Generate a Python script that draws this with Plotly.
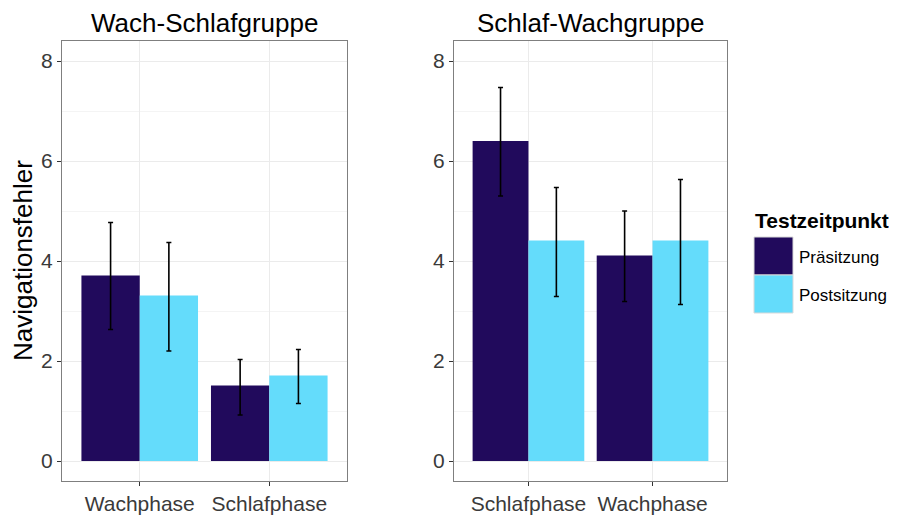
import plotly.graph_objects as go

# ---- data ----
panels = ["Wach-Schlafgruppe", "Schlaf-Wachgruppe"]
cats_left = ["Wachphase", "Schlafphase"]
cats_right = ["Schlafphase", "Wachphase"]
series = ["Präsitzung", "Postsitzung"]
pre_left = [3.71, 1.51]
pre_left_lo = [2.63, 0.92]
pre_left_hi = [4.77, 2.03]
post_left = [3.31, 1.71]
post_left_lo = [2.20, 1.15]
post_left_hi = [4.37, 2.23]
pre_right = [6.40, 4.11]
pre_right_lo = [5.30, 3.19]
pre_right_hi = [7.47, 5.00]
post_right = [4.41, 4.41]
post_right_lo = [3.29, 3.13]
post_right_hi = [5.47, 5.63]
y_ticks = [0, 2, 4, 6, 8]

colors = ["#210a5c", "#64dcfb"]
OFF = 8  # page body margin offset
W, H = 897 - OFF, 518 - OFF
FONT = "Liberation Sans, Arial, sans-serif"

def px(x):
    return (x - OFF) / W

def py(y):
    return 1 - (y - OFF) / H

fig = go.Figure()

def add_bars(cats, vals, lo, hi, color, name, xa, ya):
    fig.add_trace(go.Bar(
        x=cats, y=vals, name=name, marker=dict(color=color, line=dict(width=0)),
        error_y=dict(type="data", symmetric=False,
                     array=[h - v for h, v in zip(hi, vals)],
                     arrayminus=[v - l for l, v in zip(lo, vals)],
                     color="black", thickness=1.6, width=2.5),
        xaxis=xa, yaxis=ya, showlegend=False, offsetgroup=name))

add_bars(cats_left, pre_left, pre_left_lo, pre_left_hi, colors[0], series[0], "x", "y")
add_bars(cats_left, post_left, post_left_lo, post_left_hi, colors[1], series[1], "x", "y")
add_bars(cats_right, pre_right, pre_right_lo, pre_right_hi, colors[0], series[0], "x2", "y2")
add_bars(cats_right, post_right, post_right_lo, post_right_hi, colors[1], series[1], "x2", "y2")

ydom = [py(481), py(41)]
axis_common = dict(showline=True, linecolor="#7f7f7f", linewidth=1, mirror=True,
                   showgrid=True, gridcolor="#ebebeb", gridwidth=1, zeroline=False,
                   ticks="outside", ticklen=4, tickcolor="#333333",
                   tickfont=dict(family=FONT, size=21, color="#3a3a3a"))
xa = dict(axis_common, type="category", range=[-0.6, 1.6])
ya = dict(axis_common, range=[-0.4, 8.4], tickvals=y_ticks,
          minor=dict(dtick=1, tick0=1, showgrid=True, gridcolor="#f4f4f4", gridwidth=0.6, ticks=""))

fig.update_layout(
    width=W, height=H, margin=dict(l=0, r=0, t=0, b=0),
    paper_bgcolor="white", plot_bgcolor="white",
    barmode="group", bargap=0.1, bargroupgap=0,
    xaxis=dict(xa, domain=[px(62), px(347)], anchor="y"),
    yaxis=dict(ya, domain=ydom, anchor="x"),
    xaxis2=dict(xa, domain=[px(454), px(727)], anchor="y2"),
    yaxis2=dict(ya, domain=ydom, anchor="x2"),
    font=dict(family=FONT, color="#000000"),
)

# panel titles
for name, x0, x1 in [(panels[0], 62, 347), (panels[1], 454, 727)]:
    fig.add_annotation(text=name, x=px((x0 + x1) / 2), y=py(23), xref="paper", yref="paper",
                       xanchor="center", yanchor="middle", showarrow=False,
                       font=dict(family=FONT, size=26, color="#000000"))

# y axis title
fig.add_annotation(text="Navigationsfehler", x=px(23), y=py(261), xref="paper", yref="paper",
                   textangle=-90, xanchor="center", yanchor="middle", showarrow=False,
                   font=dict(family=FONT, size=26, color="#000000"))

# legend (ggplot-style keys)
fig.add_annotation(text="<b>Testzeitpunkt</b>", x=px(753), y=py(220), xref="paper", yref="paper",
                   xanchor="left", yanchor="middle", showarrow=False,
                   font=dict(family=FONT, size=21, color="#000000"))
for i, (lab, col) in enumerate(zip(series, colors)):
    top = 237 + i * 38
    fig.add_shape(type="rect", xref="paper", yref="paper",
                  x0=px(754), x1=px(793), y0=py(top + 38), y1=py(top),
                  fillcolor=col, line=dict(color="#d9d9d9", width=1))
    fig.add_annotation(text=lab, x=px(797), y=py(top + 20), xref="paper", yref="paper",
                       xanchor="left", yanchor="middle", showarrow=False,
                       font=dict(family=FONT, size=17, color="#000000"))

fig.write_html("out.html")
